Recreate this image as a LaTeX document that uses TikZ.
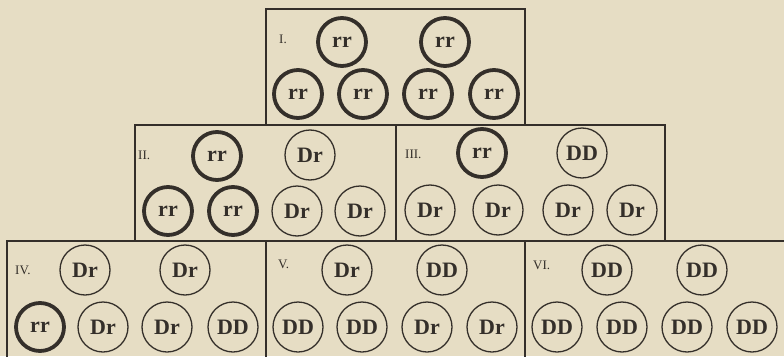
\documentclass[tikz,border=0pt]{standalone}
\usepackage{fontspec}
\setmainfont{Liberation Serif}
\usepackage{tikz}
\definecolor{paper}{RGB}{230,221,196}
\definecolor{ink}{RGB}{52,47,42}
\tikzset{
  boxline/.style={draw=ink,line width=1.4pt},
  cell/.style={circle,draw=ink,minimum size=50pt,inner sep=0pt,text=ink,font=\fontsize{22}{22}\selectfont\bfseries},
  thin/.style={cell,line width=1.3pt},
  thick/.style={cell,line width=3.8pt,minimum size=48pt},
  lab/.style={anchor=west,inner sep=0pt,text=ink,font=\fontsize{13}{13}\selectfont},
}
\begin{document}
\begin{tikzpicture}[x=1pt,y=-1pt]
\useasboundingbox (0,0) rectangle (784,356);
\fill[paper] (0,0) rectangle (784,356);
\clip (0,0) rectangle (784,356);
% boxes
\draw[boxline] (266,9) rectangle (525,125);
\draw[boxline] (135,125) rectangle (396,241);
\draw[boxline] (396,125) rectangle (665,241);
\draw[boxline] (7,241) rectangle (266,370);
\draw[boxline] (266,241) rectangle (525,370);
\draw[boxline] (525,241) rectangle (800,370);
% I
\node[lab] (lI) at (279,39) {I.};
\node[thick] (a1) at (342,42) {rr};
\node[thick] (a2) at (445,42) {rr};
\node[thick] (a3) at (298,94) {rr};
\node[thick] (a4) at (363,94) {rr};
\node[thick] (a5) at (428,94) {rr};
\node[thick] (a6) at (494,94) {rr};
% II
\node[lab] (lII) at (138,155) {II.};
\node[thick] (b1) at (217,156) {rr};
\node[thin]  (b2) at (310,155) {Dr};
\node[thick] (b3) at (168,211) {rr};
\node[thick] (b4) at (233,211) {rr};
\node[thin]  (b5) at (297,211) {Dr};
\node[thin]  (b6) at (360,211) {Dr};
% III
\node[lab] (lIII) at (405,154) {III.};
\node[thick] (c1) at (482,153) {rr};
\node[thin]  (c2) at (582,153) {DD};
\node[thin]  (c3) at (430,210) {Dr};
\node[thin]  (c4) at (498,210) {Dr};
\node[thin]  (c5) at (568,210) {Dr};
\node[thin]  (c6) at (632,210) {Dr};
% IV
\node[lab] (lIV) at (15,270) {IV.};
\node[thin]  (d1) at (85,270) {Dr};
\node[thin]  (d2) at (185,270) {Dr};
\node[thick] (d3) at (40,327) {rr};
\node[thin]  (d4) at (103,327) {Dr};
\node[thin]  (d5) at (167,327) {Dr};
\node[thin]  (d6) at (233,327) {DD};
% V
\node[lab] (lV) at (278,264) {V.};
\node[thin]  (e1) at (347,270) {Dr};
\node[thin]  (e2) at (442,270) {DD};
\node[thin]  (e3) at (298,327) {DD};
\node[thin]  (e4) at (362,327) {DD};
\node[thin]  (e5) at (427,327) {Dr};
\node[thin]  (e6) at (492,327) {Dr};
% VI
\node[lab] (lVI) at (533,265) {VI.};
\node[thin]  (f1) at (607,270) {DD};
\node[thin]  (f2) at (702,270) {DD};
\node[thin]  (f3) at (557,327) {DD};
\node[thin]  (f4) at (622,327) {DD};
\node[thin]  (f5) at (687,327) {DD};
\node[thin]  (f6) at (752,327) {DD};
\end{tikzpicture}
\end{document}
